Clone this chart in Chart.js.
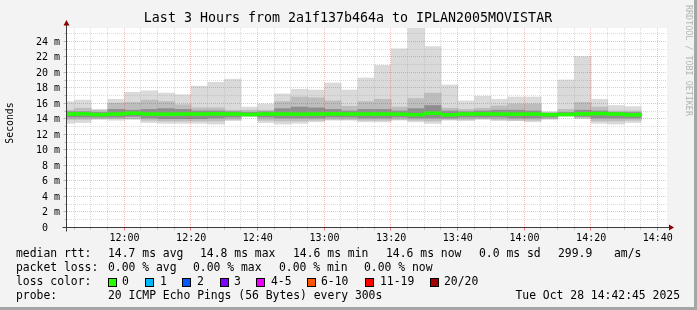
<!DOCTYPE html>
<html>
<head>
<meta charset="utf-8">
<script src="https://cdn.jsdelivr.net/npm/chart.js@4.4.1/dist/chart.umd.min.js"></script>
<style>
  html, body { margin: 0; padding: 0; background: #f3f3f3; }
  #wrap { width: 697px; height: 310px; position: relative; }
</style>
</head>
<body>
<div id="wrap"><canvas id="smokeChart" width="697" height="310"></canvas></div>
<script>
// 5 minute rrd slots (start time of each step)
const slots = ['11:40','11:45','11:50','11:55','12:00','12:05','12:10','12:15','12:20','12:25','12:30','12:35',
  '12:40','12:45','12:50','12:55','13:00','13:05','13:10','13:15','13:20','13:25','13:30','13:35',
  '13:40','13:45','13:50','13:55','14:00','14:05','14:10','14:15','14:20','14:25','14:30'];

// smoke, in ms (outer band = slowest / fastest ping)
const pingMax = [16.3,16.5,15.3,16.6,17.5,17.7,17.4,17.2,18.3,18.8,19.2,15.6,16.0,17.3,17.9,17.8,18.7,17.8,
  19.35,21.0,23.1,26.5,23.4,18.45,16.4,17.0,16.6,16.9,16.9,15.0,19.1,22.1,16.6,15.8,15.65];
const upperSmoke = [15.2,15.45,15.2,16.1,16.2,16.5,16.3,15.9,15.5,15.5,15.2,15.2,15.2,16.3,16.9,16.8,16.4,15.7,
  16.3,16.6,15.6,16.7,17.4,15.45,15.3,15.45,15.75,16.0,16.0,14.9,15.3,16.2,15.6,15.1,15.1];
const innerHigh = [15.0,15.0,14.9,15.3,15.2,15.3,15.4,15.3,15.1,15.1,15.0,14.9,15.0,15.4,15.6,15.5,15.3,15.1,
  15.3,15.3,15.1,15.4,15.8,15.1,15.0,15.1,15.2,15.2,15.1,14.8,14.9,15.2,15.1,14.9,14.9];
const medianRtt = [14.7,14.72,14.62,14.7,14.8,14.7,14.68,14.7,14.7,14.72,14.7,14.64,14.7,14.7,14.68,14.7,14.72,14.7,
  14.7,14.7,14.68,14.62,14.8,14.6,14.7,14.72,14.7,14.68,14.7,14.62,14.64,14.72,14.76,14.7,14.6];
const innerLow = [14.3,14.3,14.3,14.3,14.4,14.2,14.1,14.1,14.1,14.2,14.3,14.5,14.3,14.2,14.2,14.2,14.3,14.3,
  14.2,14.2,14.3,14.2,14.2,14.2,14.3,14.3,14.3,14.2,14.2,14.3,14.5,14.4,14.2,14.2,14.2];
const lowerSmoke = [14.0,14.0,14.1,14.1,14.1,13.9,13.8,13.8,13.8,13.8,14.0,14.4,13.9,13.8,13.8,13.9,14.0,14.0,
  13.9,13.9,14.0,13.9,13.8,14.0,14.0,14.1,14.0,13.9,13.9,14.1,14.45,14.2,13.8,13.8,13.9];
const pingMin = [13.5,13.6,14.0,13.9,14.0,13.6,13.5,13.5,13.5,13.4,13.85,14.4,13.6,13.4,13.5,13.7,13.9,13.9,
  13.7,13.7,13.9,13.7,13.5,13.9,13.85,14.0,13.85,13.85,13.7,14.0,14.45,14.15,13.5,13.4,13.6];

const yTicks = [0,2,4,6,8,10,12,14,16,18,20,22,24];
const xTickLabels = ['12:00','12:20','12:40','13:00','13:20','13:40','14:00','14:20','14:40'];

const lossLabels = ['0','1','2','3','4-5','6-10','11-19','20/20'];
const lossColors = ['#26ff00','#00b8ff','#0059ff','#7e00ff','#ee00ff','#ff5500','#ff0000','#a00000'];

const MONO = '"DejaVu Sans Mono", "Liberation Mono", monospace';

function toMinutes(hhmm) {
  const [h, m] = hhmm.split(':').map(Number);
  return h * 60 + m;
}

// floating bars, one per 5 minute step
function band(lo, hi) {
  return slots.map((s, i) => ({ x: toMinutes(s) + 2.5, y: [lo[i], hi[i]] }));
}
const medianBand = slots.map((s, i) => ({ x: toMinutes(s) + 2.5, y: [medianRtt[i] - 0.19, medianRtt[i] + 0.19] }));

function line(ctx, x1, y1, x2, y2) {
  ctx.beginPath();
  ctx.moveTo(x1, y1);
  ctx.lineTo(x2, y2);
  ctx.stroke();
}

const MAJOR_GRID = 'rgba(255,0,0,0.27)';
const MINOR_GRID = 'rgba(160,160,160,0.38)';

const rrdLook = {
  id: 'rrdLook',
  beforeDraw(chart) {
    const { ctx, chartArea: a } = chart;
    ctx.save();
    ctx.fillStyle = '#f3f3f3';
    ctx.fillRect(0, 0, chart.width, chart.height);
    ctx.fillStyle = '#a6a6a6';
    ctx.fillRect(chart.width - 3, 0, 3, chart.height);
    ctx.fillRect(0, chart.height - 3, chart.width, 3);
    ctx.fillStyle = '#ffffff';
    ctx.fillRect(a.left, a.top, a.right - a.left, a.bottom - a.top);
    ctx.restore();
  },
  // grid goes over the smoke but under the median line
  afterDatasetDraw(chart, args) {
    if (args.index !== 1) return;
    const { ctx, chartArea: a } = chart;
    const xs = chart.scales.x, ys = chart.scales.y;
    ctx.save();
    ctx.lineWidth = 1;
    ctx.setLineDash([1, 1]);
    for (let v = 1; v <= 25; v++) {
      const y = Math.round(ys.getPixelForValue(v)) - 0.5;
      ctx.strokeStyle = v % 2 === 0 ? MAJOR_GRID : MINOR_GRID;
      line(ctx, a.left, y, a.right, y);
    }
    for (let t = toMinutes('11:45'); t <= toMinutes('14:40'); t += 5) {
      const x = Math.round(xs.getPixelForValue(t)) - 0.5;
      const major = (t - toMinutes('12:00')) % 20 === 0;
      ctx.strokeStyle = major ? MAJOR_GRID : MINOR_GRID;
      line(ctx, x, a.top, x, a.bottom);
    }
    ctx.restore();
  },
  afterDraw(chart) {
    const { ctx, chartArea: a } = chart;
    const xs = chart.scales.x, ys = chart.scales.y;
    const x0 = Math.round(a.left) - 0.5;
    const y0 = Math.round(ys.getPixelForValue(0)) - 0.5;
    ctx.save();

    // ticks under the x axis
    ctx.lineWidth = 1;
    for (let t = toMinutes('11:45'); t <= toMinutes('14:40'); t += 5) {
      const x = Math.round(xs.getPixelForValue(t)) - 0.5;
      const major = (t - toMinutes('12:00')) % 20 === 0;
      ctx.strokeStyle = major ? 'rgba(255,0,0,0.5)' : 'rgba(150,150,150,0.6)';
      line(ctx, x, y0, x, y0 + (major ? 3 : 2));
    }
    ctx.strokeStyle = 'rgba(150,150,150,0.6)';
    for (let v = 1; v <= 25; v++) {
      const y = Math.round(ys.getPixelForValue(v)) - 0.5;
      line(ctx, x0 - (v % 2 === 0 ? 3 : 2), y, x0, y);
    }

    // axes + arrows
    ctx.strokeStyle = '#3c3c3c';
    line(ctx, x0, y0 + 4, x0, a.top - 4);
    line(ctx, x0 - 4, y0, a.right + 2, y0);
    ctx.fillStyle = '#8b0000';
    ctx.beginPath();
    ctx.moveTo(x0 - 3, a.top - 2.5); ctx.lineTo(x0 + 3, a.top - 2.5); ctx.lineTo(x0, a.top - 8);
    ctx.closePath(); ctx.fill();
    ctx.beginPath();
    ctx.moveTo(a.right + 2, y0 - 3); ctx.lineTo(a.right + 2, y0 + 3); ctx.lineTo(a.right + 7, y0);
    ctx.closePath(); ctx.fill();

    // tick labels
    ctx.fillStyle = '#000';
    ctx.font = '10px ' + MONO;
    ctx.textBaseline = 'middle';
    ctx.textAlign = 'right';
    yTicks.forEach(v => {
      ctx.fillText(v === 0 ? '0  ' : v + ' m', 60, ys.getPixelForValue(v));
    });
    ctx.textAlign = 'center';
    xTickLabels.forEach(lbl => {
      ctx.fillText(lbl, xs.getPixelForValue(toMinutes(lbl)), 238);
    });

    // title
    ctx.font = '13.3px ' + MONO;
    ctx.fillText('Last 3 Hours from 2a1f137b464a to IPLAN2005MOVISTAR', 348, 19);

    // vertical labels
    ctx.save();
    ctx.translate(10, 123);
    ctx.rotate(-Math.PI / 2);
    ctx.font = '9.8px ' + MONO;
    ctx.fillText('Seconds', 0, 0);
    ctx.restore();
    ctx.save();
    ctx.translate(688, 5);
    ctx.rotate(Math.PI / 2);
    ctx.textAlign = 'left';
    ctx.fillStyle = '#b4b4b4';
    ctx.font = '8.4px ' + MONO;
    ctx.fillText('RRDTOOL / TOBI OETIKER', 0, 0);
    ctx.restore();

    // legend / statistics
    ctx.textAlign = 'left';
    ctx.font = '11.4px ' + MONO;
    ctx.fillStyle = '#000';
    const rows = [
      [254, [[16, 'median rtt:'], [108, '14.7 ms avg'], [200, '14.8 ms max'], [293, '14.6 ms min'],
             [386, '14.6 ms now'], [479, '0.0 ms sd'], [558, '299.9'], [614, 'am/s']]],
      [268, [[16, 'packet loss:'], [108, '0.00 % avg'], [193, '0.00 % max'], [279, '0.00 % min'], [364, '0.00 % now']]],
      [282, [[16, 'loss color:']]],
      [296, [[16, 'probe:'], [108, '20 ICMP Echo Pings (56 Bytes) every 300s']]]
    ];
    rows.forEach(([y, items]) => items.forEach(([x, txt]) => ctx.fillText(txt, x, y)));

    const boxX = [108, 145, 182, 220, 256, 307, 365, 430];
    const lblX = [122, 160, 197, 234, 271, 321, 380, 444];
    lossLabels.forEach((lbl, i) => {
      ctx.fillStyle = lossColors[i];
      ctx.fillRect(boxX[i], 278, 8, 8);
      ctx.strokeStyle = '#000';
      ctx.strokeRect(boxX[i] + 0.5, 278.5, 8, 8);
      ctx.fillStyle = '#000';
      ctx.fillText(lbl, lblX[i], 282);
    });

    ctx.textAlign = 'right';
    ctx.fillText('Tue Oct 28 14:42:45 2025', 680, 296);
    ctx.restore();
  }
};

new Chart(document.getElementById('smokeChart'), {
  type: 'bar',
  data: {
    datasets: [
      { label: 'median', data: medianBand, backgroundColor: '#22ff00', order: 0 },
      { label: 'core', data: band(innerLow, innerHigh), backgroundColor: '#8e8e8e', order: 1 },
      { label: 'smoke', data: band(lowerSmoke, upperSmoke), backgroundColor: '#bdbdbd', order: 2 },
      { label: 'range', data: band(pingMin, pingMax), backgroundColor: '#dadada', order: 3 }
    ]
  },
  options: {
    responsive: false,
    animation: false,
    devicePixelRatio: 1,
    events: [],
    layout: { padding: { left: 67, top: 28, right: 30, bottom: 82 } },
    datasets: {
      bar: { grouped: false, barPercentage: 1, categoryPercentage: 1, borderWidth: 0 }
    },
    scales: {
      x: { type: 'linear', offset: false, min: toMinutes('11:42') + 0.75, max: toMinutes('14:42') + 0.75, display: false },
      y: { min: 0, max: 25.8, display: false }
    },
    plugins: { legend: { display: false }, tooltip: { enabled: false } }
  },
  plugins: [rrdLook]
});
</script>
</body>
</html>
